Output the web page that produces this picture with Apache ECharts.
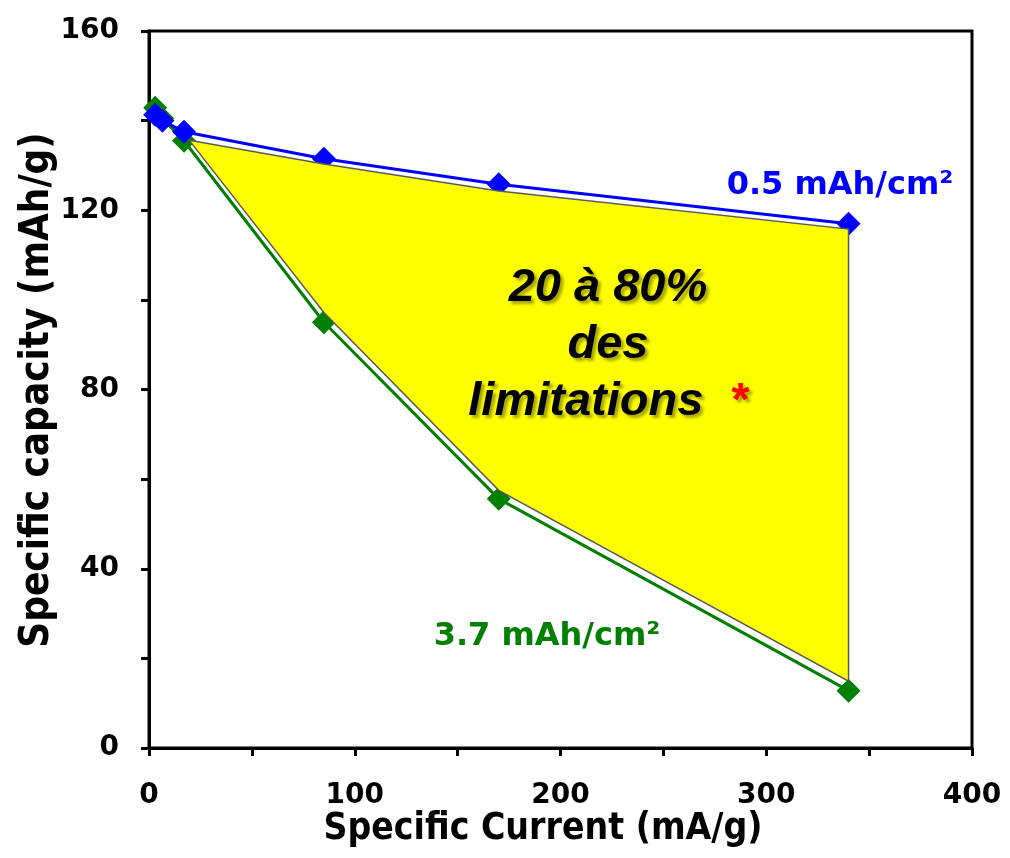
<!DOCTYPE html>
<html>
<head>
<meta charset="utf-8">
<script src="https://cdn.jsdelivr.net/npm/echarts@6/dist/echarts.min.js"></script>
<style>
  html, body { margin: 0; padding: 0; background: #fff; }
  #chart { width: 1010px; height: 858px; }
</style>
</head>
<body>
<div id="chart"></div>
<script>
// Specific current (mA/g) for each rate
const currents = [3, 6.5, 17, 85, 170, 340];
// Specific capacity (mAh/g) for the 0.5 mAh/cm² electrode
const capacityLow = [141.3, 140.0, 137.5, 131.5, 125.8, 117.0];
// Specific capacity (mAh/g) for the 3.7 mAh/cm² electrode
const capacityHigh = [142.9, 140.5, 135.5, 95.0, 55.6, 12.8];
// Shaded band between the two loadings (vertices in data units)
const bandX = [19.6, 85, 170, 340, 340, 170, 85];
const bandY = [135.6, 130.3, 124.3, 115.8, 14.9, 57.5, 97.2];
// Axis ranges and steps
const xRange = [0, 400, 100];
const yRange = [0, 160, 40];

const FONT = '"DejaVu Sans", Verdana, sans-serif';
const FONT_COND = '"DejaVu Sans Condensed", "DejaVu Sans", sans-serif';
const NOTE_FONT = '"Liberation Sans", Arial, sans-serif';

const chart = echarts.init(document.getElementById('chart'), null, { renderer: 'canvas' });

const pairs = (xs, ys) => xs.map((x, i) => [x, ys[i]]);

function axisCommon() {
  return {
    type: 'value',
    axisLine: { show: true, onZero: false, lineStyle: { color: '#000', width: 3 } },
    axisTick: { show: true, inside: false, length: 8, lineStyle: { color: '#000', width: 3 } },
    minorTick: { show: true, splitNumber: 2, length: 8, lineStyle: { color: '#000', width: 3 } },
    splitLine: { show: false },
    minorSplitLine: { show: false },
    axisLabel: { color: '#000', fontFamily: FONT, fontWeight: 'bold', fontSize: 28 }
  };
}

const xAxis = Object.assign(axisCommon(), { min: xRange[0], max: xRange[1], interval: xRange[2] });
xAxis.axisLabel = Object.assign({}, xAxis.axisLabel, { margin: 34 });
const yAxis = Object.assign(axisCommon(), { min: yRange[0], max: yRange[1], interval: yRange[2] });
yAxis.axisLabel = Object.assign({}, yAxis.axisLabel, { margin: 30 });

const noteStyle = (color) => ({
  fontFamily: NOTE_FONT, fontStyle: 'italic', fontWeight: 'bold',
  fontSize: 47, lineHeight: 57, fill: color, color: color,
  textShadowColor: 'rgba(0,0,0,0.35)', textShadowBlur: 3,
  textShadowOffsetX: 3, textShadowOffsetY: 3
});

const option = {
  animation: false,
  backgroundColor: '#fff',
  grid: {
    left: 149, right: 38, top: 31, bottom: 110,
    show: true, borderColor: '#000', borderWidth: 3, backgroundColor: 'transparent'
  },
  xAxis: xAxis,
  yAxis: yAxis,
  series: [
    {
      name: '3.7 mAh/cm²',
      type: 'line',
      data: pairs(currents, capacityHigh),
      symbol: 'diamond',
      symbolSize: 24,
      itemStyle: { color: '#008000' },
      lineStyle: { color: '#008000', width: 3 },
      z: 2
    },
    {
      name: '0.5 mAh/cm²',
      type: 'line',
      data: pairs(currents, capacityLow),
      symbol: 'diamond',
      symbolSize: 24,
      itemStyle: { color: '#0000ff' },
      lineStyle: { color: '#0000ff', width: 3 },
      z: 3
    },
    {
      name: 'band',
      type: 'custom',
      data: [[bandX[0], bandY[0]]],
      z: 5,
      silent: true,
      renderItem: function (params, api) {
        const pts = bandX.map((x, i) => api.coord([x, bandY[i]]));
        return {
          type: 'polygon',
          shape: { points: pts },
          style: { fill: '#ffff00', stroke: '#5a5a5a', lineWidth: 1.5 }
        };
      }
    }
  ],
  graphic: [
    {
      type: 'text', z: 20,
      x: 543, y: 829,
      style: {
        text: 'Specific Current (mA/g)',
        font: 'bold 37px ' + FONT_COND, fill: '#000',
        textAlign: 'center', textVerticalAlign: 'middle'
      }
    },
    {
      type: 'text', z: 20,
      x: 38, y: 390, rotation: Math.PI / 2,
      style: {
        text: 'Specific capacity (mAh/g)',
        font: 'bold 40px ' + FONT_COND, fill: '#000',
        textAlign: 'center', textVerticalAlign: 'middle'
      }
    },
    {
      type: 'text', z: 20,
      x: 840, y: 186,
      style: {
        text: '0.5 mAh/cm²',
        font: 'bold 32px ' + FONT, fill: '#0000ff',
        textAlign: 'center', textVerticalAlign: 'middle'
      }
    },
    {
      type: 'text', z: 20,
      x: 547, y: 637,
      style: {
        text: '3.7 mAh/cm²',
        font: 'bold 32px ' + FONT, fill: '#008000',
        textAlign: 'center', textVerticalAlign: 'middle'
      }
    },
    {
      type: 'text', z: 20,
      x: 608, y: 345,
      style: {
        text: '{t|20 à 80%}\n{t|des}\n{t|limitations}{r|  *}',
        textAlign: 'center', textVerticalAlign: 'middle',
        rich: { t: noteStyle('#000'), r: noteStyle('#ff0000') }
      }
    }
  ]
};

chart.setOption(option);
</script>
</body>
</html>
